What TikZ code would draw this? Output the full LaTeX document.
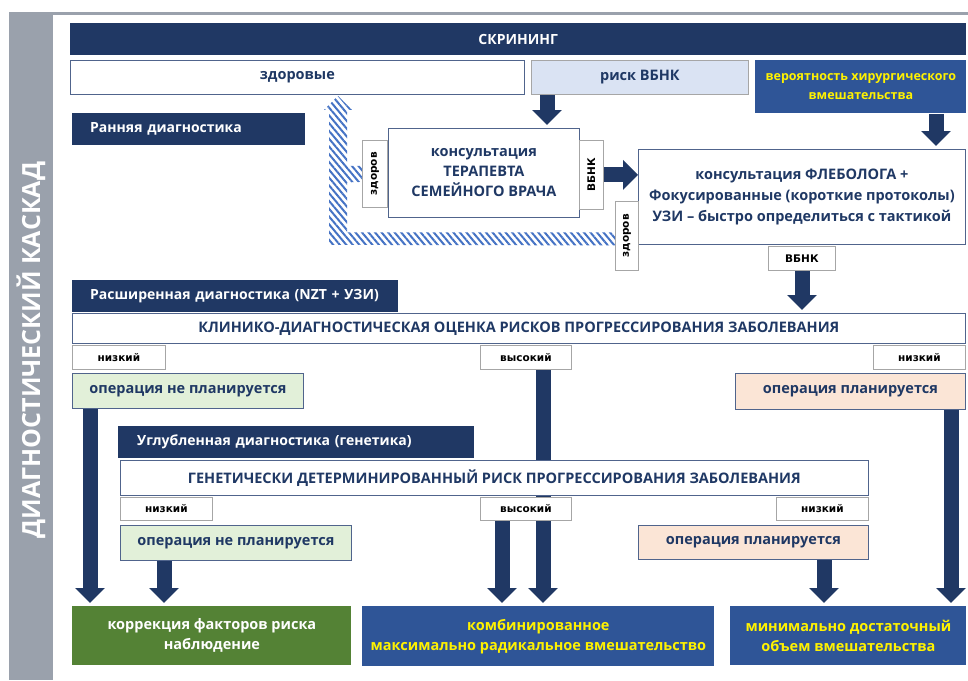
\documentclass[tikz,border=0pt]{standalone}
\usepackage{fontspec}
\usepackage{graphicx}
\setmainfont{Open Sans}
\newfontfamily\tagfont{DejaVu Sans}
\usetikzlibrary{arrows.meta, positioning, patterns.meta, backgrounds}

\definecolor{navy}{HTML}{203864}
\definecolor{textnavy}{HTML}{1F3864}
\definecolor{midblue}{HTML}{2F5597}
\definecolor{lightblue}{HTML}{DAE3F3}
\definecolor{lightgreen}{HTML}{E2F0D9}
\definecolor{peach}{HTML}{FBE5D6}
\definecolor{darkgreen}{HTML}{548235}
\definecolor{hatchblue}{HTML}{4472C4}
\definecolor{bandgray}{HTML}{9AA1AC}
\definecolor{boxline}{HTML}{50648C}
\definecolor{tagline}{HTML}{A6A6A6}

\begin{document}
\begin{tikzpicture}[x=1pt, y=-1pt,
    every node/.style={font=\bfseries\fontsize{14.5}{20}\selectfont, text=textnavy},
    box/.style={draw=boxline, line width=0.8pt, fill=white, anchor=north west, inner sep=0pt, align=center},
    bar/.style={fill=navy, anchor=north west, inner xsep=18pt, inner ysep=0pt, align=left, text=white,
        font=\bfseries\fontsize{14}{20}\selectfont},
    tag/.style={draw=tagline, line width=0.8pt, fill=white, anchor=north west, inner sep=0pt, text=black,
        font=\tagfont\bfseries\fontsize{10.5}{12}\selectfont},
    outcome/.style={box, draw=none, text=yellow},
    bigarrow/.style={draw=navy, line width=15pt, shorten >=3pt, -{Triangle[width=29pt, length=15pt]}},
    hatch/.style={pattern={Lines[angle=-50, distance=5pt, line width=2pt]}, pattern color=hatchblue}]
    \useasboundingbox (0,0) rectangle (968,680);

    % Seitenband links
    \fill[bandgray] (9,12) rectangle (53,680);
    \fill[bandgray] (53,12) rectangle (968,15);
    \node[rotate=90, text=white, font=\bfseries\fontsize{25}{27}\selectfont] (title) at (31,350) {ДИАГНОСТИЧЕСКИЙ КАСКАД};

    % Скрининг
    \node[bar, align=center, inner xsep=0pt, minimum width=896pt, minimum height=32pt] (screen) at (70,23) {СКРИНИНГ};
    \node[box, minimum width=454pt, minimum height=34pt] (healthy) at (70,60) {здоровые};
    \node[box, fill=lightblue, draw=tagline, minimum width=217pt, minimum height=34pt] (risk) at (531,60) {риск ВБНК};
    \node[box, fill=midblue, draw=none, text=yellow, minimum width=211pt, minimum height=53pt,
        font=\bfseries\fontsize{12.5}{19}\selectfont] (prob) at (755,60) {вероятность хирургического\\вмешательства};

    % Ранняя диагностика
    \node[bar, text width=197pt, minimum height=32pt] (early) at (72,113) {Ранняя диагностика};
    \node[box, minimum width=191pt, minimum height=89pt] (ther) at (388,128) {консультация\\ТЕРАПЕВТА\\СЕМЕЙНОГО ВРАЧА};
    \node[tag, minimum width=25pt, minimum height=67pt] (zd1) at (362,140) {\rotatebox{90}{здоров}};
    \node[tag, minimum width=24pt, minimum height=69pt] (vbnk1) at (579,140) {\rotatebox{90}{ВБНК}};
    \node[box, minimum width=327pt, minimum height=95pt, font=\bfseries\fontsize{14.5}{21}\selectfont] (phleb) at (638,149)
        {консультация ФЛЕБОЛОГА +\\Фокусированные (короткие протоколы)\\УЗИ -- быстро определиться с тактикой};
    \node[tag, minimum width=23pt, minimum height=69pt] (zd2) at (615,201) {\rotatebox{90}{здоров}};
    \node[tag, minimum width=67pt, minimum height=24pt] (vbnk2) at (768,246) {ВБНК};

    % Расширенная диагностика
    \node[bar, text width=290pt, minimum height=32pt] (ext) at (72,280) {Расширенная диагностика (NZT + УЗИ)};
    \node[box, minimum width=893pt, minimum height=30pt] (clinic) at (72,313)
        {КЛИНИКО-ДИАГНОСТИЧЕСКАЯ ОЦЕНКА РИСКОВ ПРОГРЕССИРОВАНИЯ ЗАБОЛЕВАНИЯ};
    \node[tag, minimum width=93pt, minimum height=24pt] (low1) at (72,345) {низкий};
    \node[tag, minimum width=91pt, minimum height=24pt] (high1) at (480,345) {высокий};
    \node[tag, minimum width=92pt, minimum height=24pt] (low2) at (873,345) {низкий};
    \node[box, fill=lightgreen, minimum width=231pt, minimum height=35pt] (nop1) at (72,373) {операция не планируется};
    \node[box, fill=peach, minimum width=230pt, minimum height=36pt] (pl1) at (735,373) {операция планируется};

    % Углубленная диагностика
    \node[bar, inner xsep=19pt, text width=318pt, minimum height=32pt] (deep) at (118,426) {Углубленная диагностика (генетика)};
    \node[box, minimum width=748pt, minimum height=35pt] (gen) at (120,460)
        {ГЕНЕТИЧЕСКИ ДЕТЕРМИНИРОВАННЫЙ РИСК ПРОГРЕССИРОВАНИЯ ЗАБОЛЕВАНИЯ};
    \node[tag, minimum width=92pt, minimum height=23pt] (low3) at (120,497) {низкий};
    \node[tag, minimum width=91pt, minimum height=23pt] (high2) at (480,497) {высокий};
    \node[tag, minimum width=92pt, minimum height=23pt] (low4) at (776,497) {низкий};
    \node[box, fill=lightgreen, minimum width=231pt, minimum height=35pt] (nop2) at (120,525) {операция не планируется};
    \node[box, fill=peach, minimum width=230pt, minimum height=34pt] (pl2) at (638,525) {операция планируется};

    % Итог
    \node[outcome, fill=darkgreen, text=white, minimum width=279pt, minimum height=59pt] (corr) at (72,606)
        {коррекция факторов риска\\наблюдение};
    \node[outcome, fill=midblue, minimum width=352pt, minimum height=60pt] (comb) at (362,606)
        {комбинированное\\максимально радикальное вмешательство};
    \node[outcome, fill=midblue, minimum width=236pt, minimum height=59pt] (minim) at (730,606)
        {минимально достаточный\\объем вмешательства};

    % Pfeile
    \coordinate (c1) at (547,0);
    \coordinate (c2) at (936,0);
    \coordinate (c3) at (802,0);
    \coordinate (c4) at (90,0);
    \coordinate (c5) at (543,0);
    \coordinate (c6) at (951,0);
    \coordinate (c7) at (164,0);
    \coordinate (c8) at (502,0);
    \coordinate (c9) at (824,0);
    \begin{scope}[on background layer]
        \path[hatch] ([yshift=8pt]zd1.west) -- ++(-15,0) -- ++(0,-56) -- ++(5,0) -- ++(-14,-14) -- ++(-14,14)
            -- ++(5,0) -- ++(0,135) -- ([yshift=-9.5pt]zd2.west) -- ([yshift=3.5pt]zd2.west) -- ++(-268,0)
            -- ++(0,-50) -- ([yshift=-8pt]zd1.west) -- cycle;
        \draw[bigarrow] (risk.south -| c1) -- (ther.north -| c1);
        \draw[bigarrow] (prob.south -| c2) -- (phleb.north -| c2);
        \draw[bigarrow, shorten >=0pt] (vbnk1.east) -- (phleb.west |- vbnk1.east);
        \draw[bigarrow] (vbnk2.south -| c3) -- (clinic.north -| c3);
        \draw[bigarrow] (nop1.south -| c4) -- (corr.north -| c4);
        \draw[bigarrow] (high1.south -| c5) -- (comb.north -| c5);
        \draw[bigarrow] (pl1.south -| c6) -- (minim.north -| c6);
        \draw[bigarrow] (nop2.south -| c7) -- (corr.north -| c7);
        \draw[bigarrow] (high2.south -| c8) -- (comb.north -| c8);
        \draw[bigarrow] (pl2.south -| c9) -- (minim.north -| c9);
    \end{scope}
\end{tikzpicture}
\end{document}
